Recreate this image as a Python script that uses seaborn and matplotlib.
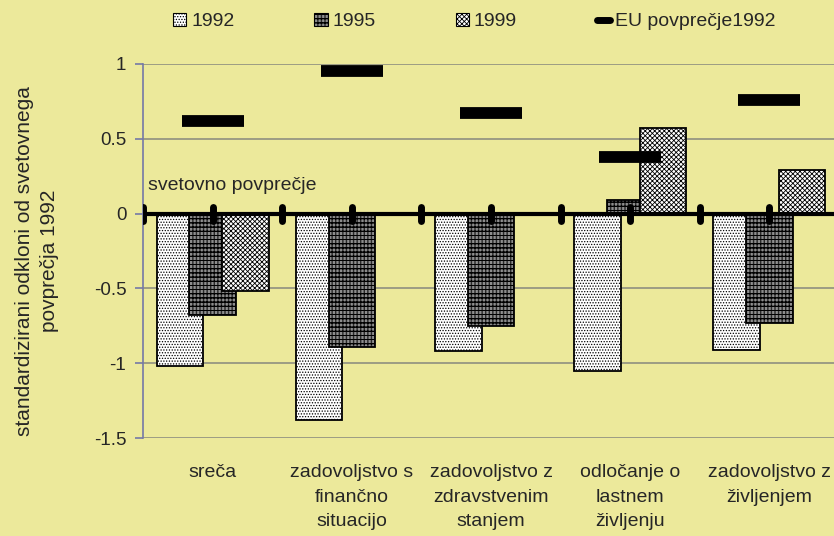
import numpy as np
import pandas as pd
import matplotlib.pyplot as plt
import seaborn as sns
from matplotlib.lines import Line2D
from matplotlib.patches import Patch
from matplotlib.markers import MarkerStyle

# podatki
categories = ['sreča',
              'zadovoljstvo s\nfinančno\nsituacijo',
              'zadovoljstvo z\nzdravstvenim\nstanjem',
              'odločanje o\nlastnem\nživljenju',
              'zadovoljstvo z\nživljenjem']
years = ['1992', '1995', '1999']
v1992 = [-1.02, -1.38, -0.92, -1.05, -0.91]
v1995 = [-0.68, -0.89, -0.75, 0.09, -0.73]
v1999 = [-0.52, np.nan, np.nan, 0.57, 0.29]
eu1992 = [0.62, 0.95, 0.67, 0.38, 0.76]
yticks = [-1.5, -1, -0.5, 0, 0.5, 1]
ytick_labels = ['-1.5', '-1', '-0.5', '0', '0.5', '1']

df = pd.DataFrame({
    'kategorija': categories * 3,
    'leto': np.repeat(years, len(categories)),
    'vrednost': v1992 + v1995 + v1999,
}).dropna()

bg = '#ece99b'
axis_col = '#7479a6'
hatches = ['......', '||||||||||||----', 'xxxxxxx']

sns.set_style('white')
plt.rcParams['font.family'] = ['Liberation Sans', 'DejaVu Sans']
plt.rcParams['hatch.linewidth'] = 0.6

fig = plt.figure(figsize=(8.34, 5.36), dpi=100, facecolor=bg)
ax = fig.add_axes([0.1715, 0.1828, 0.8345, 0.6978])
ax.set_facecolor(bg)

sns.barplot(data=df, x='kategorija', y='vrednost', hue='leto', order=categories,
            hue_order=years, palette=['white'] * 3, saturation=1, edgecolor='black',
            linewidth=1.3, width=0.705, legend=False, ax=ax, zorder=2)

# prekrivajoci se stolpci
for cont, h in zip(ax.containers, hatches):
    for bar in cont:
        c = bar.get_x() + bar.get_width() / 2
        bar.set_width(0.335)
        bar.set_x(c - 0.335 / 2)
        bar.set_hatch(h)

x = np.arange(len(categories))
ax.axhline(0, color='black', lw=3, zorder=3)
marks = np.arange(-0.5, len(categories), 0.5)
ax.plot(marks, np.zeros_like(marks), ls='none',
        marker=MarkerStyle('|', capstyle='round'), ms=10, mew=5, color='black', zorder=3)
ax.plot(x, eu1992, ls='none', marker='_', ms=44, mew=8.5, color='black', zorder=4)

ax.text(-0.465, 0.155, 'svetovno povprečje', fontsize=14, va='baseline')

ax.set_xlim(-0.5, len(categories) - 0.5)
ax.set_ylim(-1.5, 1)
ax.set_yticks(yticks)
ax.set_yticklabels(ytick_labels)
ax.set_xticks(x)
ax.set_xticklabels(categories, linespacing=1.55)
ax.set_xlabel('')
ax.set_ylabel('standardizirani odkloni od svetovnega\npovprečja 1992', fontsize=15,
              linespacing=1.4)
ax.yaxis.set_label_coords(-0.121, 0.473)

ax.yaxis.grid(True, color='#8f8f80', lw=1.2)
ax.set_axisbelow(True)
for s in ['top', 'right', 'bottom']:
    ax.spines[s].set_visible(False)
ax.spines['left'].set_color(axis_col)
ax.spines['left'].set_linewidth(1.2)
ax.tick_params(axis='y', left=True, length=6, width=1.2, color=axis_col, labelsize=13.5, pad=6)
ax.tick_params(axis='x', length=0, pad=19, labelsize=14)

handles = [Patch(facecolor='white', edgecolor='black', hatch=h, lw=0.8) for h in hatches]
handles.append(Line2D([], [], color='black', lw=5))
labels = years + ['EU povprečje1992']
fig.legend(handles, labels, ncol=4, loc='center left', bbox_to_anchor=(0.207, 0.959),
           frameon=False, fontsize=14, handlelength=0.7, handleheight=0.6,
           handletextpad=0.25, columnspacing=4.1, borderpad=0, borderaxespad=0)

fig.savefig('out.png', dpi=100, facecolor=bg)
